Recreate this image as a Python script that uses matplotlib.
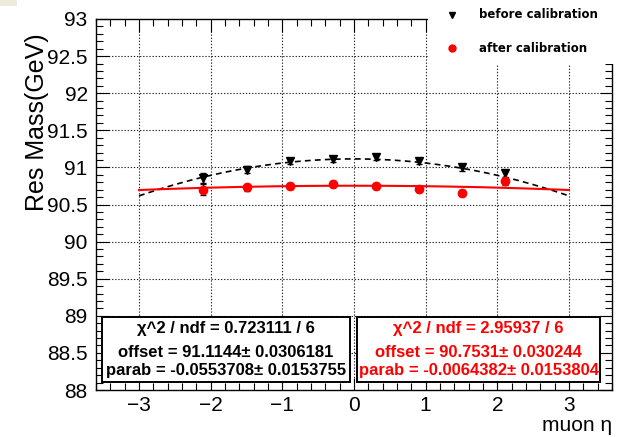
import matplotlib
matplotlib.use("Agg")
import matplotlib.pyplot as plt
import numpy as np
from matplotlib.ticker import MultipleLocator
from matplotlib.patches import Rectangle
from matplotlib.lines import Line2D

# ---- data -------------------------------------------------------------
eta = [-2.1, -1.5, -0.9, -0.3, 0.3, 0.9, 1.5, 2.1]

mass_before = [90.86, 90.97, 91.08, 91.11, 91.14, 91.08, 91.00, 90.92]
err_before = [0.07, 0.05, 0.04, 0.035, 0.035, 0.04, 0.045, 0.05]

mass_after = [90.70, 90.73, 90.75, 90.78, 90.75, 90.71, 90.66, 90.81]
err_after = [0.07, 0.05, 0.04, 0.04, 0.035, 0.045, 0.04, 0.05]

# parabolic fit results: m(eta) = offset + parab * eta^2
chi2_before, ndf_before = "0.723111", "6"
offset_before, offset_err_before = 91.1144, 0.0306181
parab_before, parab_err_before = -0.0553708, 0.0153755

chi2_after, ndf_after = "2.95937", "6"
offset_after, offset_err_after = 90.7531, 0.030244
parab_after, parab_err_after = -0.0064382, 0.0153804

fit_range = (-3.0, 3.0)
x_ticks = [-3, -2, -1, 0, 1, 2, 3]
y_ticks = [88, 88.5, 89, 89.5, 90, 90.5, 91, 91.5, 92, 92.5, 93]
y_ticklabels = ["88", "88.5", "89", "89.5", "90", "90.5", "91", "91.5", "92", "92.5", "93"]
legend_labels = ["before calibration", "after calibration"]

# ---- figure -----------------------------------------------------------
W, H = 623, 437
fig = plt.figure(figsize=(W / 100, H / 100), dpi=100)
plt.rcParams["font.family"] = ["Liberation Sans", "DejaVu Sans"]


def fx(px):
    return px / W


def fy(py):
    return 1 - py / H


ax = fig.add_axes([fx(96), fy(390), fx(612) - fx(96), fy(19) - fy(390)])
ax.set_xlim(-3.6, 3.6)
ax.set_ylim(88, 93)

ax.set_xticks(x_ticks)
ax.set_yticks(y_ticks)
ax.set_yticklabels(y_ticklabels)
ax.xaxis.set_minor_locator(MultipleLocator(0.2))
ax.yaxis.set_minor_locator(MultipleLocator(0.1))

ax.tick_params(which="both", direction="in", top=True, right=True, colors="black", width=0.8)
ax.tick_params(which="major", length=9, labelsize=15)
ax.tick_params(axis="x", which="major", pad=4)
ax.tick_params(axis="y", which="major", pad=6)
ax.tick_params(which="minor", length=5)
for sp in ax.spines.values():
    sp.set_linewidth(1.0)

# dotted grid at the major ticks
grid_style = dict(color="black", linestyle=(0, (1.2, 1.6)), linewidth=0.8, alpha=0.85, zorder=1)
for xv in x_ticks:
    ax.axvline(xv, **grid_style)
for yv in y_ticks[1:-1]:
    ax.axhline(yv, **grid_style)

# fits
xf = np.linspace(fit_range[0], fit_range[1], 300)
ax.plot(xf, offset_before + parab_before * xf ** 2, color="black", linestyle=(0, (3.5, 2.5)),
        linewidth=1.2, zorder=3)
ax.plot(xf, offset_after + parab_after * xf ** 2, color="#ff0000", linewidth=1.5, zorder=3)

# data points
ax.errorbar(eta, mass_before, yerr=err_before, fmt="v", color="black", markersize=6,
            capsize=2, elinewidth=1.0, capthick=1.0, zorder=4)
ax.errorbar(eta, mass_after, yerr=err_after, fmt="o", color="#ff0000", markersize=6,
            ecolor="black", capsize=2, elinewidth=1.0, capthick=1.0, zorder=4)

# axis titles
fig.text(fx(612), fy(431), "muon \u03b7", ha="right", va="baseline", fontsize=15)
fig.text(fx(37), fy(33), "Res Mass(GeV)", ha="center", va="top", rotation=90, fontsize=18)


# fit statistics boxes
def stat_box(x0, x1, color, chi2, ndf, off, off_e, par, par_e):
    y0, y1 = 0.022, 0.197
    ax.add_patch(Rectangle((x0, y0), x1 - x0, y1 - y0, transform=ax.transAxes,
                           facecolor="white", edgecolor="black", linewidth=1.4, zorder=6))
    xc = (x0 + x1) / 2
    lines = [
        f"\u03c7^2 / ndf = {chi2} / {ndf}",
        f"offset = {off:g}\u00b1 {off_e:g}",
        f"parab = {par:g}\u00b1 {par_e:g}",
    ]
    ys = [y1 - 0.030, y1 - 0.095, y1 - 0.145]
    for t, yy in zip(lines, ys):
        ax.text(xc, yy, t, transform=ax.transAxes, ha="center", va="center",
                fontsize=12, fontweight="bold", color=color, zorder=7)


stat_box(0.012, 0.492, "black", chi2_before, ndf_before, offset_before, offset_err_before,
         parab_before, parab_err_before)
stat_box(0.506, 0.977, "#ff0000", chi2_after, ndf_after, offset_after, offset_err_after,
         parab_after, parab_err_after)

# legend (borderless white pad in the top-right corner)
fig.patches.append(Rectangle((fx(428), fy(64)), fx(623) - fx(428), fy(0) - fy(64),
                             transform=fig.transFigure, facecolor="white", edgecolor="none",
                             zorder=10))
fig.add_artist(Line2D([fx(452)], [fy(15)], marker="v", color="black", markersize=5,
                      linestyle="none", transform=fig.transFigure, zorder=11))
fig.add_artist(Line2D([fx(452)], [fy(48)], marker="o", color="#ff0000", markersize=5,
                      linestyle="none", transform=fig.transFigure, zorder=11))
fig.text(fx(479), fy(15), legend_labels[0], ha="left", va="center", fontsize=8.5,
         fontweight="bold", family="DejaVu Sans", zorder=11)
fig.text(fx(479), fy(48), legend_labels[1], ha="left", va="center", fontsize=8.5,
         fontweight="bold", family="DejaVu Sans", zorder=11)

# small beige tab at the top-left corner
fig.patches.append(Rectangle((0, fy(6)), fx(17), fy(0) - fy(6), transform=fig.transFigure,
                             facecolor="#eeebdc", edgecolor="none", zorder=10))

fig.savefig("out.png", dpi=100)
